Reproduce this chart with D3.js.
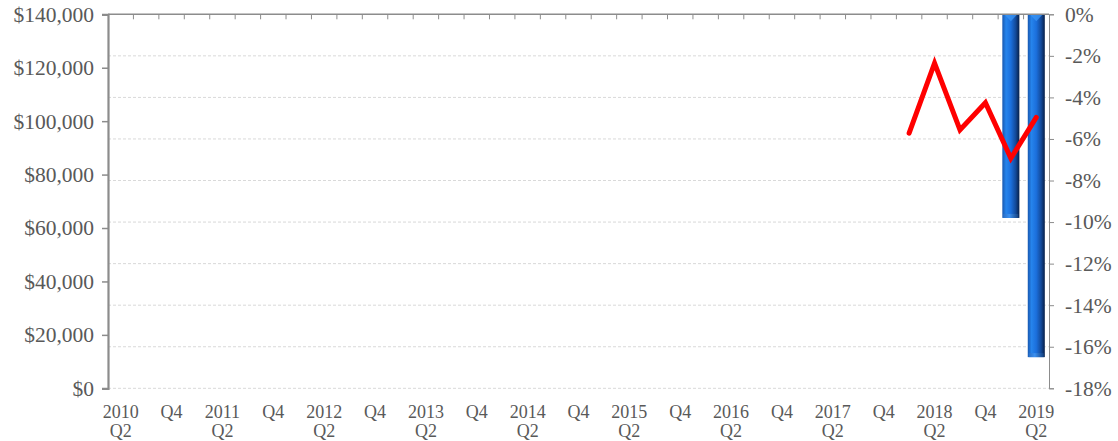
<!DOCTYPE html>
<html>
<head>
<meta charset="utf-8">
<script src="https://cdn.jsdelivr.net/npm/d3@7"></script>
<style>
  html, body { margin: 0; padding: 0; background: #fff; }
  svg { display: block; }
  text { font-family: "Liberation Serif", "Times New Roman", serif; fill: #595959; }
</style>
</head>
<body>
<svg id="chart" width="1118" height="441"></svg>
<script>
// Quarterly categories, 2010 Q2 through 2019 Q2
const quarters = [
  "2010 Q2","2010 Q3","2010 Q4","2011 Q1","2011 Q2","2011 Q3","2011 Q4","2012 Q1",
  "2012 Q2","2012 Q3","2012 Q4","2013 Q1","2013 Q2","2013 Q3","2013 Q4","2014 Q1",
  "2014 Q2","2014 Q3","2014 Q4","2015 Q1","2015 Q2","2015 Q3","2015 Q4","2016 Q1",
  "2016 Q2","2016 Q3","2016 Q4","2017 Q1","2017 Q2","2017 Q3","2017 Q4","2018 Q1",
  "2018 Q2","2018 Q3","2018 Q4","2019 Q1","2019 Q2"
];
// Dollar series (left axis), only the last six quarters are reported
const dollarValues = [
  null,null,null,null,null,null,null,null,null,null,null,null,null,null,null,null,
  null,null,null,null,null,null,null,null,null,null,null,null,null,null,null,
  95500, 121700, 96700, 106900, 86100, 101400
];
// Percent change series (right axis), shown as bars
const pctValues = [
  null,null,null,null,null,null,null,null,null,null,null,null,null,null,null,null,
  null,null,null,null,null,null,null,null,null,null,null,null,null,null,null,
  null,null,null,null, -9.8, -16.5
];
const leftTicks = [0, 20000, 40000, 60000, 80000, 100000, 120000, 140000];
const rightTicks = [0, -2, -4, -6, -8, -10, -12, -14, -16, -18];

const W = 1118, H = 441;
const margin = { top: 14.3, right: 69, bottom: 52.7, left: 108 };
const iw = W - margin.left - margin.right;
const ih = H - margin.top - margin.bottom;

const svg = d3.select("#chart");
const defs = svg.append("defs");
const grad = defs.append("linearGradient").attr("id", "barFill")
  .attr("x1", "0%").attr("x2", "100%").attr("y1", "0%").attr("y2", "0%");
[["0%", "#1858b0"], ["22%", "#2684ec"], ["50%", "#1b6fdc"], ["78%", "#134a9a"], ["100%", "#071f48"]]
  .forEach(([o, c]) => grad.append("stop").attr("offset", o).attr("stop-color", c));
const capGrad = defs.append("linearGradient").attr("id", "capFill")
  .attr("x1", "0%").attr("x2", "100%").attr("y1", "0%").attr("y2", "0%");
[["0%", "#2a70c8"], ["40%", "#3b90f0"], ["100%", "#14407f"]]
  .forEach(([o, c]) => capGrad.append("stop").attr("offset", o).attr("stop-color", c));

const g = svg.append("g").attr("transform", `translate(${margin.left},${margin.top})`);

const x = d3.scaleBand().domain(quarters).range([0, iw]).paddingInner(0.33).paddingOuter(0.165);
const xb = d3.scaleBand().domain(quarters).range([0, iw]);
const yL = d3.scaleLinear().domain([0, 140000]).range([ih, 0]);
const yR = d3.scaleLinear().domain([-18, 0]).range([ih, 0]);

// Dashed gridlines on the percent steps
g.append("g").selectAll("line").data(rightTicks.slice(1)).join("line")
  .attr("x1", 0).attr("x2", iw)
  .attr("y1", d => yR(d)).attr("y2", d => yR(d))
  .attr("stroke", "#d9d9d9").attr("stroke-width", 1).attr("stroke-dasharray", "3,2");

// Bars hanging from the 0% line
const barData = quarters.map((q, i) => ({ q, v: pctValues[i] })).filter(d => d.v != null);
const bars = g.append("g").selectAll("g").data(barData).join("g");
bars.append("rect")
  .attr("x", d => x(d.q)).attr("width", x.bandwidth())
  .attr("y", yR(0)).attr("height", d => yR(d.v) - yR(0))
  .attr("fill", "url(#barFill)");
// bevelled bottom cap
bars.append("rect")
  .attr("x", d => x(d.q) + 1).attr("width", x.bandwidth() - 2)
  .attr("y", d => yR(d.v) - 4).attr("height", 4)
  .attr("fill", "url(#capFill)");
// light chevron at the top of each bar
bars.append("path")
  .attr("d", d => {
    const x0 = x(d.q), bw = x.bandwidth();
    return `M${x0 + 2},${yR(0)}L${x0 + bw / 2},${yR(0) + 7}L${x0 + bw - 2},${yR(0)}Z`;
  })
  .attr("fill", "#3a94f4").attr("opacity", 0.8);

// Top category axis with inward ticks at band edges
g.append("line").attr("x1", 0).attr("x2", iw).attr("y1", 0).attr("y2", 0)
  .attr("stroke", "#8c8c8c").attr("stroke-width", 1.5);
g.append("g").selectAll("line").data(quarters.slice(1)).join("line")
  .attr("x1", d => xb(d)).attr("x2", d => xb(d)).attr("y1", 0).attr("y2", 5)
  .attr("stroke", "#8c8c8c").attr("stroke-width", 1);

// Category labels under the plot, every second quarter
const labelData = quarters.filter((q, i) => i % 2 === 0);
const lbl = g.append("g").selectAll("text").data(labelData).join("text")
  .attr("text-anchor", "middle").attr("font-size", 18)
  .attr("transform", d => `translate(${xb(d) + xb.bandwidth() / 2},0)`);
lbl.each(function (d) {
  const [yr, qt] = d.split(" ");
  const t = d3.select(this);
  if (qt === "Q2") {
    t.append("tspan").attr("x", 0).attr("y", ih + 30).text(yr);
    t.append("tspan").attr("x", 0).attr("y", ih + 48.5).text(qt);
  } else {
    t.append("tspan").attr("x", 0).attr("y", ih + 30).text(qt);
  }
});

// Left dollar axis
const leftAxis = g.append("g")
  .call(d3.axisLeft(yL).tickValues(leftTicks).tickSize(6).tickPadding(8)
    .tickFormat(d => "$" + d3.format(",")(d)));
leftAxis.select(".domain").attr("stroke", "#8c8c8c").attr("stroke-width", 2.2);
leftAxis.selectAll(".tick line").attr("stroke", "#8c8c8c").attr("stroke-width", 1.5);
leftAxis.selectAll("text").attr("font-size", 21.5).attr("fill", "#595959")
  .attr("font-family", "Liberation Serif, Times New Roman, serif");

// Right percent axis
const rightAxis = g.append("g").attr("transform", `translate(${iw},0)`)
  .call(d3.axisRight(yR).tickValues(rightTicks).tickSize(5).tickPadding(11)
    .tickFormat(d => d + "%"));
rightAxis.select(".domain").attr("stroke", "#8c8c8c").attr("stroke-width", 1);
rightAxis.selectAll(".tick line").attr("stroke", "#8c8c8c");
rightAxis.selectAll("text").attr("font-size", 21.5).attr("fill", "#595959")
  .attr("font-family", "Liberation Serif, Times New Roman, serif");

// Red dollar line
const lineData = quarters.map((q, i) => ({ q, v: dollarValues[i] })).filter(d => d.v != null);
g.append("path").datum(lineData)
  .attr("fill", "none").attr("stroke", "#ff0000").attr("stroke-width", 5)
  .attr("stroke-linecap", "round").attr("stroke-linejoin", "miter")
  .attr("d", d3.line().x(d => xb(d.q) + xb.bandwidth() / 2).y(d => yL(d.v)));
</script>
</body>
</html>
